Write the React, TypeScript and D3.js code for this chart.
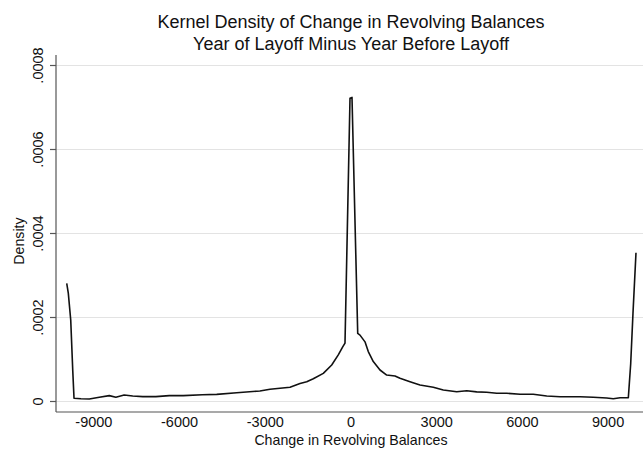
import React from 'react';
import * as d3 from 'd3';

// kdensity of change in revolving balances
const balanceChange = [
  -9950, -9895, -9810, -9740, -9695, -9450, -9160, -8810, -8460, -8230, -7940, -7640, -7290,
  -6830, -6360, -5870, -5200, -4700, -4000, -3190, -2835, -2485, -2135, -1785, -1550, -1320,
  -970, -675, -445, -290, -210, -35, 35, 235, 315, 490, 605, 780, 1015, 1250, 1540, 1715,
  1890, 2065, 2415, 2880, 3230, 3700, 4050, 4400, 4750, 5100, 5450, 5920, 6380, 6850, 7320,
  8020, 8480, 8950, 9180, 9420, 9707, 9790, 9870, 9975,
];
const density = [
  0.000281, 0.000258, 0.000194, 0.000075, 0.0000076, 0.0000065, 0.000006, 0.00001, 0.000014,
  0.00001, 0.0000155, 0.000013, 0.0000115, 0.0000115, 0.000014, 0.000014, 0.000016, 0.000017,
  0.000021, 0.000025, 0.000029, 0.0000314, 0.0000338, 0.000043, 0.000047, 0.000054, 0.000067,
  0.000087, 0.000111, 0.00013, 0.000139, 0.000722, 0.000724, 0.000162, 0.000158, 0.000142,
  0.000119, 0.000095, 0.000075, 0.000063, 0.0000607, 0.0000552, 0.0000512, 0.0000471,
  0.0000393, 0.0000338, 0.0000274, 0.0000233, 0.0000257, 0.000023, 0.000022, 0.0000195,
  0.0000195, 0.0000171, 0.0000171, 0.0000131, 0.0000114, 0.0000114, 0.00001, 0.0000083,
  0.0000067, 0.000009, 0.000009, 0.00009, 0.00021, 0.000354,
];

const xTicks = [-9000, -6000, -3000, 0, 3000, 6000, 9000];
const yTicks = [0, 0.0002, 0.0004, 0.0006, 0.0008];
const yTickLabels = ['0', '.0002', '.0004', '.0006', '.0008'];

const titleLines = ['Kernel Density of Change in Revolving Balances', 'Year of Layoff Minus Year Before Layoff'];
const xTitle = 'Change in Revolving Balances';
const yTitle = 'Density';

const W = 643;
const H = 452;
const font = '"Liberation Sans", Arial, Helvetica, sans-serif';

export default function App() {
  const axisX = 56;
  const axisY = 412;
  const x = d3.scaleLinear().domain([-10000, 10000]).range([65.3, 636.7]);
  const y = d3.scaleLinear().domain([0, 0.0008]).range([401.5, 65.5]);

  const pts: [number, number][] = balanceChange.map((v, i) => [v, density[i]]);
  const line = d3
    .line<[number, number]>()
    .x((d) => x(d[0]))
    .y((d) => y(d[1]));

  return (
    <>
      <style>{'body{margin:0}'}</style>
      <svg width={W} height={H} style={{ display: 'block', background: '#fff' }} fontFamily={font}>
        {/* gridlines */}
        {yTicks.map((t) => (
          <line key={'g' + t} x1={axisX} x2={W} y1={y(t)} y2={y(t)} stroke="#e3e3e3" strokeWidth={1.2} />
        ))}

        {/* axes */}
        <line x1={axisX} x2={axisX} y1={55} y2={axisY} stroke="#555" strokeWidth={1.2} />
        <line x1={axisX} x2={W} y1={axisY} y2={axisY} stroke="#555" strokeWidth={1.2} />
        {yTicks.map((t, i) => (
          <g key={'y' + t}>
            <line x1={axisX - 6} x2={axisX} y1={y(t)} y2={y(t)} stroke="#555" strokeWidth={1.2} />
            <text
              transform={`translate(43,${y(t)}) rotate(-90)`}
              textAnchor="middle"
              fontSize={14.5}
              fill="#111"
            >
              {yTickLabels[i]}
            </text>
          </g>
        ))}
        {xTicks.map((t) => (
          <text key={'x' + t} x={x(t)} y={427} textAnchor="middle" fontSize={14.5} fill="#111">
            {t}
          </text>
        ))}

        {/* density curve */}
        <path d={line(pts) || ''} fill="none" stroke="#111" strokeWidth={1.6} strokeLinejoin="round" />

        {/* titles */}
        {titleLines.map((s, i) => (
          <text key={s} x={351} y={27.5 + i * 22} textAnchor="middle" fontSize={18} fill="#111">
            {s}
          </text>
        ))}
        <text x={351} y={445} textAnchor="middle" fontSize={14.2} fill="#111">
          {xTitle}
        </text>
        <text transform="translate(24,241) rotate(-90)" textAnchor="middle" fontSize={14.2} fill="#111">
          {yTitle}
        </text>
      </svg>
    </>
  );
}
